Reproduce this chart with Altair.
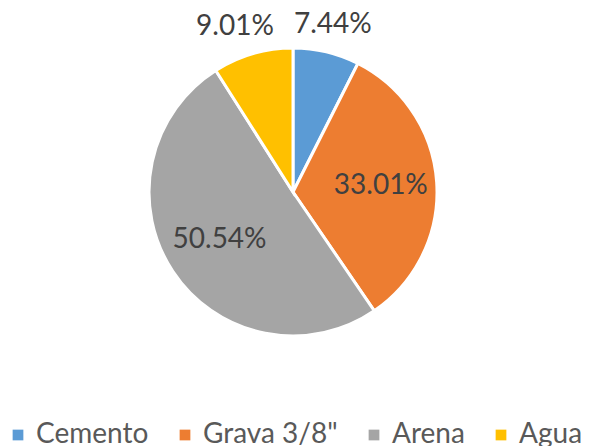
import altair as alt
import pandas as pd

categories = ["Cemento", "Grava 3/8\"", "Arena", "Agua"]
values = [7.44, 33.01, 50.54, 9.01]
colors = ["#5B9BD5", "#ED7D31", "#A5A5A5", "#FFC000"]

df = pd.DataFrame({"cat": categories, "value": values, "idx": list(range(len(categories)))})

base = alt.Chart(df).transform_window(
    cum="sum(value)", sort=[alt.SortField("idx")], frame=[None, 0]
).transform_joinaggregate(
    total="sum(value)"
).transform_calculate(
    label="format(datum.value, '.2f') + '%'",
    mid="(datum.cum - datum.value / 2) / datum.total",
).encode(
    theta=alt.Theta("value:Q", stack=True),
    order=alt.Order("idx:Q"),
)

arc = base.mark_arc(outerRadius=144, stroke="white", strokeWidth=3).encode(
    color=alt.Color(
        "cat:N",
        scale=alt.Scale(domain=categories, range=colors),
        legend=alt.Legend(
            title=None,
            orient="none",
            legendX=-4,
            legendY=413,
            direction="horizontal",
            symbolType="square",
            symbolSize=115,
            symbolStrokeWidth=0,
            labelFontSize=28,
            labelFont="Lato",
            labelColor="#595959",
            labelOffset=4,
            columnPadding=22,
            padding=0,
        ),
    )
)

txt = dict(font="Lato", fontSize=28, color="#404040")

inner = base.transform_calculate(
    t="datum.value >= 20 ? datum.label : ''"
).mark_text(radius=88, **txt).encode(text="t:N")

outer_right = base.transform_calculate(
    t="datum.value < 20 && datum.mid < 0.5 ? datum.label : ''"
).mark_text(radius=172, **txt).encode(text="t:N")

outer_left = base.transform_calculate(
    t="datum.value < 20 && datum.mid >= 0.5 ? datum.label : ''"
).mark_text(radius=172, dx=-10, **txt).encode(text="t:N")

chart = alt.layer(arc, inner, outer_right, outer_left).properties(
    width=570,
    height=368,
    padding={"left": 0, "top": 0, "right": 6, "bottom": 70},
    autosize=alt.AutoSizeParams(type="none"),
).configure_view(stroke=None)

chart.save("out.html", embed_options={"renderer": "svg", "actions": False})
